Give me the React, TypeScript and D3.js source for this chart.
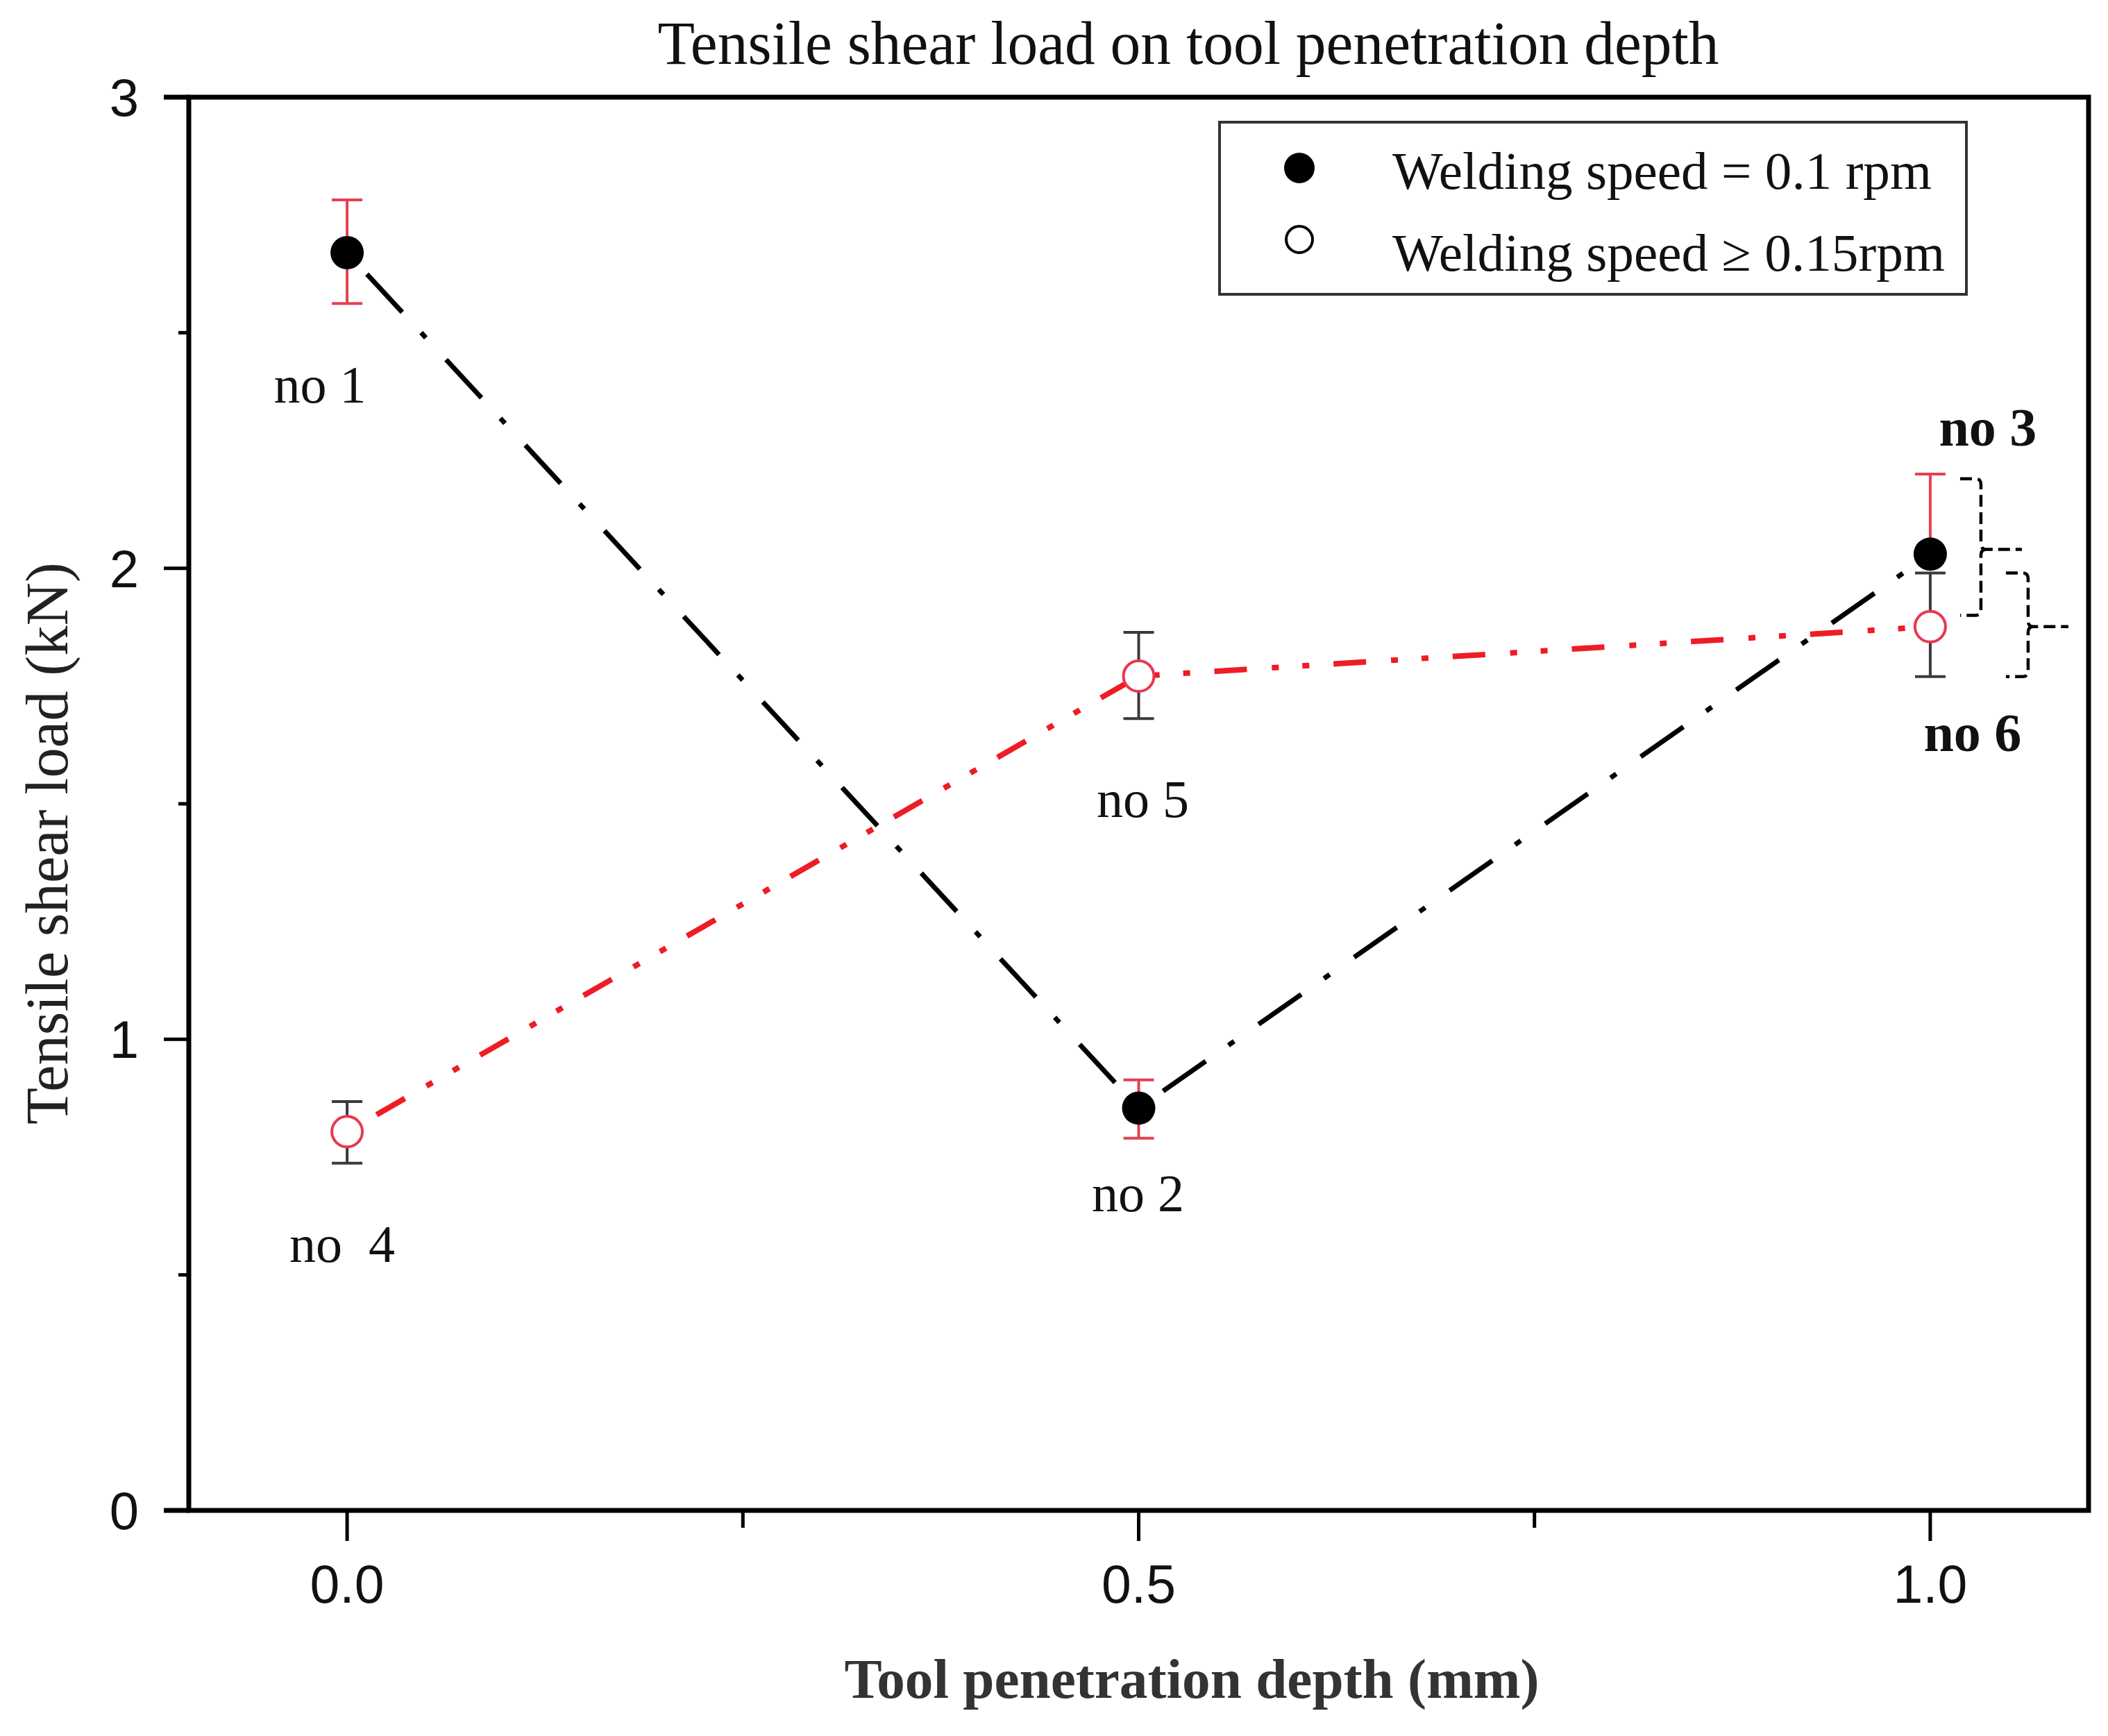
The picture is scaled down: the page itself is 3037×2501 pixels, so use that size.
import React from "react";
import * as d3 from "d3";

// ---- data ----
const depth = [0.0, 0.5, 1.0];
const loadSlow = [2.67, 0.854, 2.03]; // Welding speed = 0.1 rpm (filled)
const loadSlowHi = [2.782, 0.914, 2.20];
const loadSlowLo = [2.562, 0.79, 2.03];
const loadFast = [0.804, 1.771, 1.876]; // Welding speed >= 0.15rpm (open)
const loadFastHi = [0.868, 1.864, 1.99];
const loadFastLo = [0.737, 1.681, 1.77];
const labelsSlow = ["no 1", "no 2", "no 3"];
const labelsFast = ["no  4", "no 5", "no 6"];
const xMajorTicks = [0.0, 0.5, 1.0];
const xMinorTicks = [0.25, 0.75];
const xTickLabels = ["0.0", "0.5", "1.0"];
const yMajorTicks = [0, 1, 2, 3];
const yMinorTicks = [0.5, 1.5, 2.5];
const yTickLabels = ["0", "1", "2", "3"];
// bracket annotations: [top, mid, bottom] in kN
const bracketSpans = [
  [2.19, 2.04, 1.9],
  [1.99, 1.876, 1.77],
];
const legendLabels = ["Welding speed = 0.1 rpm", "Welding speed \u2265 0.15rpm"];

// ---- layout ----
const W = 3037;
const H = 2501;
const L = 272;
const R = 3009;
const T = 140;
const B = 2176;
const serif = "'Liberation Serif', 'Times New Roman', serif";
const sans = "'Liberation Sans', Arial, sans-serif";
const RED_LINE = "#ee1c24";
const RED_ERR = "#e4414f";
const GRAY_ERR = "#3a3a3a";

const labelOffsetsSlow = [
  [-39, 216, false],
  [-1, 149, false],
  [83, -156, true],
];
const labelOffsetsFast = [
  [-7, 188, false],
  [6, 203, false],
  [61, 179, true],
];
const bracketGeom = [
  { arm: 43, v: 73, hook: 132 },
  { arm: 109, v: 141, hook: 199 },
];

export default function App() {
  const x = d3.scaleLinear().domain([-0.1, 1.1]).range([L, R]);
  const y = d3.scaleLinear().domain([0, 3]).range([B, T]);
  const line = d3
    .line<number>()
    .x((_, i) => x(depth[i]))
    .y((d) => y(d));

  const capW = 22;
  const mr = 24;

  const errBars = (hi: number[], lo: number[], color: string, key: string) =>
    depth.map((d, i) => (
      <g key={key + i} stroke={color} strokeWidth={4}>
        <line x1={x(d)} x2={x(d)} y1={y(hi[i])} y2={y(lo[i])} />
        <line x1={x(d) - capW} x2={x(d) + capW} y1={y(hi[i])} y2={y(hi[i])} />
        <line x1={x(d) - capW} x2={x(d) + capW} y1={y(lo[i])} y2={y(lo[i])} />
      </g>
    ));

  const bracketPath = (span: number[], g: { arm: number; v: number; hook: number }) => {
    const x0 = x(1.0);
    const t = y(span[0]);
    const m = y(span[1]);
    const b = y(span[2]);
    const vx = x0 + g.v;
    const ax = x0 + g.arm;
    const hx = x0 + g.hook;
    const r = 8;
    return (
      `M${ax},${t} L${vx - r},${t} Q${vx},${t} ${vx},${t + r} L${vx},${m - r} Q${vx},${m} ${vx + r},${m} L${hx},${m} ` +
      `M${vx + r},${m} Q${vx},${m} ${vx},${m + r} L${vx},${b - r} Q${vx},${b} ${vx - r},${b} L${ax},${b}`
    );
  };

  return (
    <svg
      width={W}
      height={H}
      viewBox={`0 0 ${W} ${H}`}
      style={{ position: "absolute", left: 0, top: 0, background: "#fff" }}
    >
      <rect x={0} y={0} width={W} height={H} fill="#fff" />
      {/* title */}
      <text
        x={1712}
        y={92}
        textAnchor="middle"
        fontFamily={serif}
        fontSize={88}
        textLength={1529}
        lengthAdjust="spacingAndGlyphs"
        fill="#111"
      >
        Tensile shear load on tool penetration depth
      </text>

      {/* series lines */}
      <path
        d={line(loadSlow) || ""}
        fill="none"
        stroke="#000"
        strokeWidth={7}
        strokeDasharray="75 40 10 43"
        strokeDashoffset={126}
      />
      <path
        d={line(loadFast) || ""}
        fill="none"
        stroke={RED_LINE}
        strokeWidth={8}
        strokeDasharray="47 36 10 34 10 35"
        strokeDashoffset={123}
      />

      {/* error bars */}
      {errBars(loadFastHi, loadFastLo, GRAY_ERR, "ef")}
      {errBars(loadSlowHi, loadSlowLo, RED_ERR, "es")}

      {/* markers */}
      {depth.map((d, i) => (
        <circle key={"ms" + i} cx={x(d)} cy={y(loadSlow[i])} r={mr} fill="#000" />
      ))}
      {depth.map((d, i) => (
        <circle
          key={"mf" + i}
          cx={x(d)}
          cy={y(loadFast[i])}
          r={mr - 2}
          fill="#fff"
          stroke="#e8384f"
          strokeWidth={4}
        />
      ))}

      {/* brackets */}
      {bracketSpans.map((s, i) => (
        <path
          key={"br" + i}
          d={bracketPath(s, bracketGeom[i])}
          fill="none"
          stroke="#000"
          strokeWidth={4.5}
          strokeDasharray="17 8"
        />
      ))}

      {/* point labels */}
      {depth.map((d, i) => (
        <text
          key={"ls" + i}
          x={x(d) + (labelOffsetsSlow[i][0] as number)}
          y={y(loadSlow[i]) + (labelOffsetsSlow[i][1] as number)}
          textAnchor="middle"
          fontFamily={serif}
          fontSize={labelOffsetsSlow[i][2] ? 78 : 76}
          fontWeight={labelOffsetsSlow[i][2] ? "bold" : "normal"}
          fill="#111"
          style={{ whiteSpace: "pre" }}
        >
          {labelsSlow[i]}
        </text>
      ))}
      {depth.map((d, i) => (
        <text
          key={"lf" + i}
          x={x(d) + (labelOffsetsFast[i][0] as number)}
          y={y(loadFast[i]) + (labelOffsetsFast[i][1] as number)}
          textAnchor="middle"
          fontFamily={serif}
          fontSize={labelOffsetsFast[i][2] ? 78 : 76}
          fontWeight={labelOffsetsFast[i][2] ? "bold" : "normal"}
          fill="#111"
          style={{ whiteSpace: "pre" }}
        >
          {labelsFast[i]}
        </text>
      ))}

      {/* legend */}
      <rect x={1757} y={176} width={1076} height={248} fill="none" stroke="#333" strokeWidth={4} />
      <circle cx={1872} cy={242} r={22} fill="#000" />
      <circle cx={1872} cy={345} r={19} fill="#fff" stroke="#000" strokeWidth={4} />
      <text x={2006} y={272} fontFamily={serif} fontSize={76} fill="#111" textLength={777} lengthAdjust="spacingAndGlyphs">
        {legendLabels[0]}
      </text>
      <text x={2006} y={390} fontFamily={serif} fontSize={76} fill="#111" textLength={796} lengthAdjust="spacingAndGlyphs">
        {legendLabels[1]}
      </text>

      {/* frame */}
      <rect x={L} y={T} width={R - L} height={B - T} fill="none" stroke="#000" strokeWidth={7} />

      {/* y ticks */}
      {yMajorTicks.map((t) => (
        <line key={"ym" + t} x1={L - 36} x2={L} y1={y(t)} y2={y(t)} stroke="#000" strokeWidth={t === 0 || t === 3 ? 7 : 5} />
      ))}
      {yMinorTicks.map((t) => (
        <line key={"yn" + t} x1={L - 15} x2={L} y1={y(t)} y2={y(t)} stroke="#000" strokeWidth={5} />
      ))}
      {yMajorTicks.map((t, i) => (
        <text key={"yl" + t} x={200} y={y(t) + 27} textAnchor="end" fontFamily={sans} fontSize={76} fill="#111">
          {yTickLabels[i]}
        </text>
      ))}

      {/* x ticks */}
      {xMajorTicks.map((t) => (
        <line key={"xm" + t} x1={x(t)} x2={x(t)} y1={B} y2={B + 44} stroke="#000" strokeWidth={5} />
      ))}
      {xMinorTicks.map((t) => (
        <line key={"xn" + t} x1={x(t)} x2={x(t)} y1={B} y2={B + 25} stroke="#000" strokeWidth={5} />
      ))}
      {xMajorTicks.map((t, i) => (
        <text key={"xl" + t} x={x(t)} y={2309} textAnchor="middle" fontFamily={sans} fontSize={77} fill="#111">
          {xTickLabels[i]}
        </text>
      ))}

      {/* axis titles */}
      <text
        transform="translate(97,1215) rotate(-90)"
        textAnchor="middle"
        fontFamily={serif}
        fontSize={87}
        fill="#222"
        textLength={810}
        lengthAdjust="spacingAndGlyphs"
      >
        Tensile shear load (kN)
      </text>
      <text
        x={1717}
        y={2446}
        textAnchor="middle"
        fontFamily={serif}
        fontWeight="bold"
        fontSize={80}
        fill="#333"
        textLength={1001}
        lengthAdjust="spacingAndGlyphs"
      >
        Tool penetration depth (mm)
      </text>
    </svg>
  );
}
